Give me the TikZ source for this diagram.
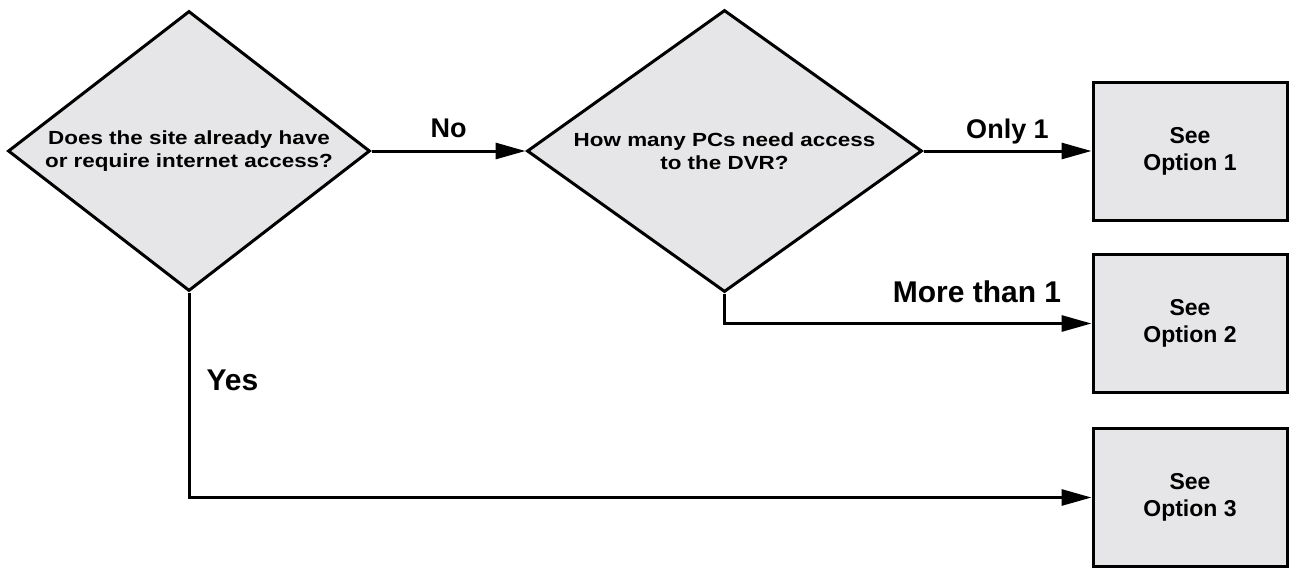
\documentclass[tikz,border=0pt]{standalone}
\usepackage{fontspec}
\setmainfont{Liberation Sans}
\newfontfamily\widesans[FakeStretch=1.18]{Liberation Sans}
\usetikzlibrary{arrows.meta,shapes.geometric}
\definecolor{shapegray}{RGB}{230,230,232}

\begin{document}
\begin{tikzpicture}[x=1pt, y=-1pt, line width=3pt, >={Triangle[length=30pt,width=16pt]},
  decision/.style={draw, fill=shapegray, diamond, inner sep=0pt, align=center,
    font=\widesans\bfseries\fontsize{19}{23}\selectfont},
  outcome/.style={draw, fill=shapegray, rectangle, minimum width=194pt, minimum height=138pt,
    align=center, font=\bfseries\fontsize{23}{27}\selectfont},
  lbl/.style={font=\bfseries\fontsize{27}{32}\selectfont, inner sep=0pt},
  biglbl/.style={lbl, font=\bfseries\fontsize{30}{36}\selectfont}]
\useasboundingbox (0,0) rectangle (1290,568);

% questions
\node[decision, aspect=1.293, minimum width=362pt, minimum height=280pt] (site) at (189,151)
  {Does the site already have\\or require internet access?};
\node[decision, aspect=1.4, minimum width=395pt, minimum height=282pt] (pcs) at (724.5,151)
  {How many PCs need access\\to the DVR?};

% answers
\node[outcome] (opt1) at (1190,151) {See\\Option 1};
\node[outcome] (opt2) at (1190,323.5) {See\\Option 2};
\node[outcome] (opt3) at (1190,497.5) {See\\Option 3};

\draw[->] (site) -- (pcs) node[lbl, midway, anchor=base, yshift=14pt] {No};
\draw[->] (pcs) -- (opt1) node[lbl, midway, anchor=base, yshift=13pt] {Only 1};
\draw[->] (pcs.south) |- (opt2.west) node[biglbl, pos=0.844, anchor=base, yshift=21pt] {More than 1};
\draw[->] (site.south) |- (opt3.west) node[biglbl, pos=0.239, anchor=base west, xshift=16pt] {Yes};
\end{tikzpicture}
\end{document}
